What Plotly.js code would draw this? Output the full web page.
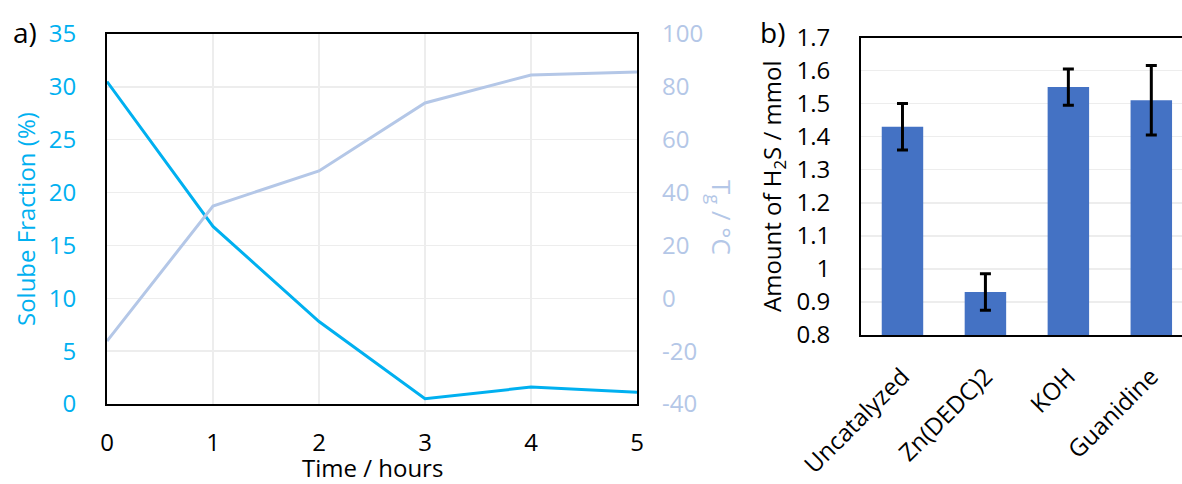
<!DOCTYPE html>
<html>
<head>
<meta charset="utf-8">
<script src="https://cdn.plot.ly/plotly-3.0.1.min.js"></script>
<style>html,body{margin:0;padding:0;background:#fff;}#chart{width:1182px;height:484px;}</style>
</head>
<body>
<div id="chart"></div>
<script>
// Panel a) data
var timeHours = [0, 1, 2, 3, 4, 5];
var solubleFraction = [30.5, 16.8, 7.8, 0.5, 1.6, 1.1];
var tgValues = [-16.2, 34.9, 48.2, 73.9, 84.5, 85.6];
var tgTickVals = [-40, -20, 0, 20, 40, 60, 80, 100];
var tgTickText = ["-40", "-20", "0", "20", "40", "60", "80", "100"];

// Panel b) data
var catalysts = ["Uncatalyzed", "Zn(DEDC)2", "KOH", "Guanidine"];
var h2sAmount = [1.43, 0.93, 1.55, 1.51];
var h2sError = [0.07, 0.055, 0.055, 0.105];
var bTickVals = [0.8, 0.9, 1.0, 1.1, 1.2, 1.3, 1.4, 1.5, 1.6, 1.7];
var bTickText = ["0.8", "0.9", "1", "1.1", "1.2", "1.3", "1.4", "1.5", "1.6", "1.7"];

var FONT = "'Open Sans', 'Noto Sans', sans-serif";
var FS = 24;
var W = 1182, H = 484;
function px(x){return x / W;}
function py(y){return 1 - y / H;}

var traces = [
  {x: timeHours, y: solubleFraction, type: "scatter", mode: "lines",
   line: {color: "#00B0F0", width: 3}, xaxis: "x", yaxis: "y", hoverinfo: "skip"},
  {x: timeHours, y: tgValues, type: "scatter", mode: "lines",
   line: {color: "#B4C7E7", width: 3}, xaxis: "x", yaxis: "y2", hoverinfo: "skip"},
  {x: catalysts, y: h2sAmount, type: "bar", marker: {color: "#4472C4"},
   width: 0.5, base: 0,
   error_y: {type: "data", array: h2sError, visible: true, color: "#000", thickness: 3, width: 5.5},
   xaxis: "x3", yaxis: "y3", hoverinfo: "skip"}
];

var layout = {
  width: W, height: H,
  margin: {l: 0, r: 0, t: 0, b: 0},
  paper_bgcolor: "#fff", plot_bgcolor: "#fff",
  showlegend: false,
  font: {family: FONT, size: FS, color: "#000"},
  xaxis: {domain: [px(107), px(637)], range: [0, 5], dtick: 1, tick0: 0,
    showgrid: true, gridcolor: "#EDEDED", gridwidth: 1.5, zeroline: false,
    showline: true, linecolor: "#000", linewidth: 2, mirror: true,
    ticks: "", ticklabelstandoff: 16, tickfont: {family: FONT, size: FS, color: "#000"},
    anchor: "y", fixedrange: true},
  yaxis: {domain: [py(404), py(34)], range: [0, 35], dtick: 5, tick0: 0,
    showgrid: true, gridcolor: "#EDEDED", gridwidth: 1.5, zeroline: false,
    showline: true, linecolor: "#000", linewidth: 2, mirror: true,
    ticks: "", ticklabelstandoff: 24, tickfont: {family: FONT, size: FS, color: "#00B0F0"},
    anchor: "x", fixedrange: true},
  yaxis2: {overlaying: "y", side: "right", anchor: "x", range: [-40, 100],
    tickvals: tgTickVals, ticktext: tgTickText,
    showgrid: false, zeroline: false, showline: false,
    ticks: "", ticklabelstandoff: 24, tickfont: {family: FONT, size: FS, color: "#B4C7E7"},
    fixedrange: true},
  xaxis3: {domain: [px(861), 1], range: [-0.5, 3.37], type: "category",
    showgrid: false, zeroline: false,
    showline: true, linecolor: "#000", linewidth: 2, mirror: true,
    ticks: "", tickangle: -45, ticklabelstandoff: 16, tickfont: {family: FONT, size: FS, color: "#000"},
    anchor: "y3", fixedrange: true},
  yaxis3: {domain: [py(335), py(37.5)], range: [0.8, 1.7],
    tickvals: bTickVals, ticktext: bTickText,
    showgrid: true, gridcolor: "#EDEDED", gridwidth: 1.5, zeroline: false,
    showline: true, linecolor: "#000", linewidth: 2, mirror: false,
    ticks: "", ticklabelstandoff: 24, tickfont: {family: FONT, size: FS, color: "#000"},
    anchor: "x3", fixedrange: true},
  annotations: [
    {text: "a)", xref: "paper", yref: "paper", x: px(25), y: py(32), xanchor: "center", yanchor: "middle",
     showarrow: false, font: {family: FONT, size: 28, color: "#000"}},
    {text: "b)", xref: "paper", yref: "paper", x: px(772), y: py(32), xanchor: "center", yanchor: "middle",
     showarrow: false, font: {family: FONT, size: 28, color: "#000"}},
    {text: "Time / hours", xref: "paper", yref: "paper", x: px(372), y: py(467), xanchor: "center", yanchor: "middle",
     showarrow: false, font: {family: FONT, size: FS, color: "#000"}},
    {text: "Solube Fraction (%)", xref: "paper", yref: "paper", x: px(25), y: py(219), xanchor: "center", yanchor: "middle",
     textangle: -90, showarrow: false, font: {family: FONT, size: FS, color: "#00B0F0"}},
    {text: "T<sub>g</sub> / °C", xref: "paper", yref: "paper", x: px(721), y: py(217), xanchor: "center", yanchor: "middle",
     textangle: 90, showarrow: false, font: {family: FONT, size: 26, color: "#B4C7E7"}},
    {text: "Amount of H<sub>2</sub>S / mmol", xref: "paper", yref: "paper", x: px(773), y: py(187), xanchor: "center", yanchor: "middle",
     textangle: -90, showarrow: false, font: {family: FONT, size: FS, color: "#000"}}
  ]
};

Plotly.newPlot("chart", traces, layout, {displayModeBar: false, staticPlot: true});
</script>
</body>
</html>
